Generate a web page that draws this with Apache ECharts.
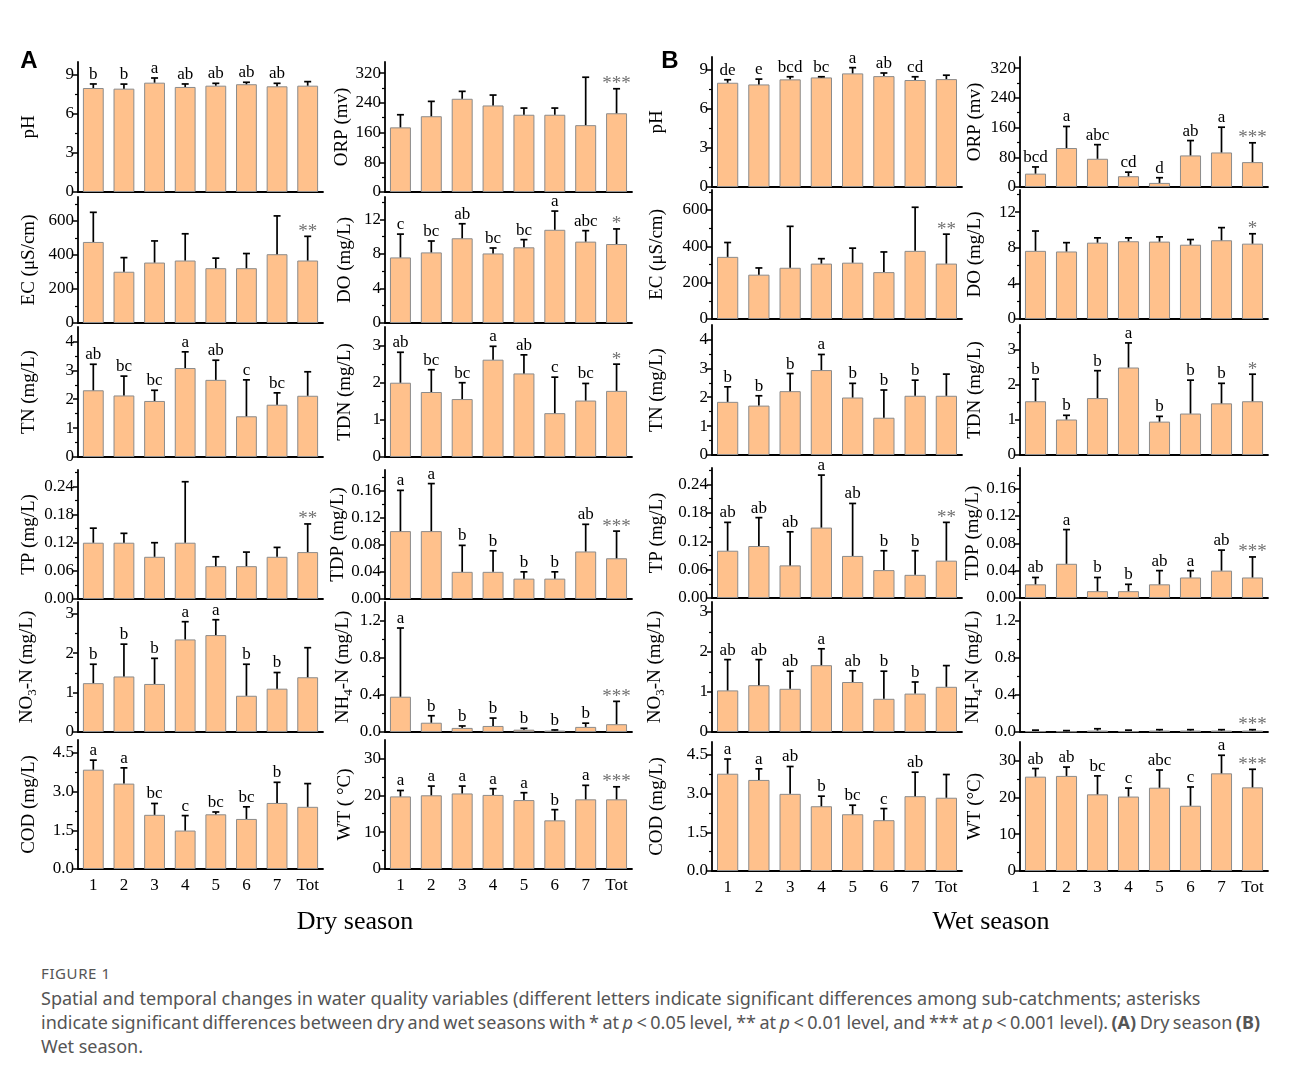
<!DOCTYPE html>
<html>
<head>
<meta charset="utf-8">
<script src="https://cdn.jsdelivr.net/npm/echarts@6/dist/echarts.min.js"></script>
<style>
  body { margin: 0; background: #fff; }
  .rule { position: absolute; left: 0; top: 10px; width: 1290px; height: 1px; background: #cfcfcf; }
  #chart { position: absolute; left: 0; top: 0; width: 1290px; height: 950px; }
  #caption { position: absolute; left: 41px; top: 963px; font-family: "Noto Sans", sans-serif; color: #555; white-space: nowrap; }
  #caption .fig { font-size: 15px; letter-spacing: 0.6px; line-height: 20px; }
  #caption .txt { font-size: 18px; line-height: 24px; margin-top: 3px; }
  #caption .tight { word-spacing: -1.2px; }
</style>
</head>
<body>
<div class="rule"></div>
<div id="chart"></div>
<div id="caption">
  <div class="fig">FIGURE 1</div>
  <div class="txt">Spatial and temporal changes in water quality variables (different letters indicate significant differences among sub-catchments; asterisks<br><span class="tight">indicate significant differences between dry and wet seasons with * at <i>p</i> &lt; 0.05 level, ** at <i>p</i> &lt; 0.01 level, and *** at <i>p</i> &lt; 0.001 level). <b>(A)</b> Dry season <b>(B)</b></span><br>Wet season.</div>
</div>
<script>
const sites = ["1", "2", "3", "4", "5", "6", "7", "Tot"];

// y tick labels
const phTicks = [0, 3, 6, 9];
const ecTicks = [0, 200, 400, 600];
const tnTicks = [0, 1, 2, 3, 4];
const tpTicks = [0, 0.06, 0.12, 0.18, 0.24];
const no3Ticks = [0, 1, 2, 3];
const codTicks = [0, 1.5, 3, 4.5];
const orpTicks = [0, 80, 160, 240, 320];
const doTicks = [0, 4, 8, 12];
const tdnTicks = [0, 1, 2, 3];
const tdpTicks = [0, 0.04, 0.08, 0.12, 0.16];
const nh4Ticks = [0, 0.4, 0.8, 1.2];
const wtTicks = [0, 10, 20, 30];

// dry season (A): mean, top of error bar, letters
const dryPH = [8.0, 7.95, 8.41, 8.08, 8.18, 8.29, 8.13, 8.18];
const dryPHUp = [8.31, 8.3, 8.77, 8.31, 8.36, 8.44, 8.36, 8.49];
const dryPHSig = ["b", "b", "a", "ab", "ab", "ab", "ab", ""];

const dryEC = [476, 301, 355, 367, 322, 322, 404, 367];
const dryECUp = [650, 384, 482, 524, 381, 408, 629, 509];
const dryECSig = ["", "", "", "", "", "", "", "**"];

const dryTN = [2.31, 2.13, 1.94, 3.08, 2.67, 1.41, 1.81, 2.12];
const dryTNUp = [3.21, 2.8, 2.31, 3.64, 3.35, 2.67, 2.22, 2.95];
const dryTNSig = ["ab", "bc", "bc", "a", "ab", "c", "bc", ""];

const dryTP = [0.12, 0.12, 0.09, 0.12, 0.07, 0.07, 0.09, 0.1];
const dryTPUp = [0.151, 0.14, 0.12, 0.25, 0.09, 0.1, 0.11, 0.16];
const dryTPSig = ["", "", "", "", "", "", "", "**"];

const dryNO3 = [1.24, 1.41, 1.22, 2.35, 2.46, 0.92, 1.1, 1.39];
const dryNO3Up = [1.72, 2.23, 1.87, 2.8, 2.85, 1.72, 1.51, 2.14];
const dryNO3Sig = ["b", "b", "b", "a", "a", "b", "b", ""];

const dryCOD = [3.85, 3.31, 2.1, 1.49, 2.12, 1.94, 2.56, 2.41];
const dryCODUp = [4.22, 3.92, 2.54, 2.07, 2.21, 2.41, 3.36, 3.31];
const dryCODSig = ["a", "a", "bc", "c", "bc", "bc", "b", ""];

const dryORP = [174, 204, 251, 233, 208, 208, 180, 212];
const dryORPUp = [208, 244, 271, 261, 226, 226, 309, 278];
const dryORPSig = ["", "", "", "", "", "", "", "***"];

const dryDO = [7.6, 8.18, 9.82, 8.06, 8.77, 10.8, 9.43, 9.15];
const dryDOUp = [10.3, 9.5, 11.5, 8.69, 9.66, 12.97, 10.7, 10.9];
const dryDOSig = ["c", "bc", "ab", "bc", "bc", "a", "abc", "*"];

const dryTDN = [2.0, 1.75, 1.56, 2.62, 2.25, 1.18, 1.52, 1.78];
const dryTDNUp = [2.82, 2.35, 2.0, 2.98, 2.75, 2.15, 1.98, 2.5];
const dryTDNSig = ["ab", "bc", "bc", "a", "ab", "c", "bc", "*"];

const dryTDP = [0.1, 0.1, 0.04, 0.04, 0.03, 0.03, 0.07, 0.06];
const dryTDPUp = [0.16, 0.17, 0.079, 0.071, 0.04, 0.04, 0.11, 0.1];
const dryTDPSig = ["a", "a", "b", "b", "b", "b", "ab", "***"];

const dryNH4 = [0.38, 0.1, 0.044, 0.065, 0.025, 0.015, 0.055, 0.084];
const dryNH4Up = [1.12, 0.175, 0.065, 0.15, 0.04, 0.022, 0.095, 0.33];
const dryNH4Sig = ["a", "b", "b", "b", "b", "b", "b", "***"];

const dryWT = [19.7, 20.0, 20.5, 20.1, 18.7, 13.2, 18.9, 18.9];
const dryWTUp = [21.3, 22.5, 22.5, 21.8, 20.7, 16.1, 22.7, 22.3];
const dryWTSig = ["a", "a", "a", "a", "a", "b", "a", "***"];

// wet season (B)
const wetPH = [8.02, 7.89, 8.28, 8.43, 8.74, 8.53, 8.23, 8.3];
const wetPHUp = [8.25, 8.3, 8.48, 8.48, 9.18, 8.77, 8.48, 8.6];
const wetPHSig = ["de", "e", "bcd", "bc", "a", "ab", "cd", ""];

const wetEC = [342, 244, 282, 305, 310, 258, 375, 305];
const wetECUp = [421, 281, 510, 332, 390, 369, 615, 467];
const wetECSig = ["", "", "", "", "", "", "", "**"];

const wetTN = [1.84, 1.71, 2.21, 2.94, 1.99, 1.29, 2.05, 2.05];
const wetTNUp = [2.36, 2.05, 2.82, 3.48, 2.48, 2.25, 2.59, 2.8];
const wetTNSig = ["b", "b", "b", "a", "b", "b", "b", ""];

const wetTP = [0.1, 0.11, 0.069, 0.149, 0.089, 0.059, 0.049, 0.079];
const wetTPUp = [0.16, 0.17, 0.14, 0.26, 0.2, 0.1, 0.1, 0.16];
const wetTPSig = ["ab", "ab", "ab", "a", "ab", "b", "b", "**"];

const wetNO3 = [1.04, 1.17, 1.08, 1.67, 1.25, 0.83, 0.96, 1.13];
const wetNO3Up = [1.81, 1.81, 1.52, 2.08, 1.53, 1.52, 1.25, 1.66];
const wetNO3Sig = ["ab", "ab", "ab", "a", "ab", "b", "b", ""];

const wetCOD = [3.77, 3.53, 2.99, 2.51, 2.2, 1.97, 2.9, 2.84];
const wetCODUp = [4.34, 3.96, 4.05, 2.9, 2.55, 2.42, 3.83, 3.74];
const wetCODSig = ["a", "a", "ab", "b", "bc", "c", "ab", ""];

const wetORP = [36, 105, 76, 29, 11, 85, 93, 67];
const wetORPUp = [54, 163, 114, 40, 25, 125, 161, 119];
const wetORPSig = ["bcd", "a", "abc", "cd", "d", "ab", "a", "***"];

const wetDO = [7.66, 7.59, 8.58, 8.74, 8.7, 8.35, 8.85, 8.47];
const wetDOUp = [9.89, 8.58, 9.12, 9.12, 9.23, 8.93, 10.27, 9.58];
const wetDOSig = ["", "", "", "", "", "", "", "*"];

const wetTDN = [1.53, 1.01, 1.62, 2.49, 0.95, 1.18, 1.47, 1.53];
const wetTDNUp = [2.16, 1.13, 2.4, 3.19, 1.1, 2.13, 2.04, 2.3];
const wetTDNSig = ["b", "b", "b", "a", "b", "b", "b", "*"];

const wetTDP = [0.02, 0.05, 0.01, 0.01, 0.02, 0.03, 0.04, 0.03];
const wetTDPUp = [0.03, 0.1, 0.03, 0.02, 0.04, 0.04, 0.07, 0.06];
const wetTDPSig = ["ab", "a", "b", "b", "ab", "a", "ab", "***"];

const wetNH4 = [0.01, 0.008, 0.015, 0.01, 0.015, 0.015, 0.015, 0.015];
const wetNH4Up = [0.02, 0.015, 0.035, 0.02, 0.025, 0.025, 0.025, 0.025];
const wetNH4Sig = ["", "", "", "", "", "", "", "***"];

const wetWT = [25.6, 25.8, 20.8, 20.2, 22.6, 17.7, 26.5, 22.7];
const wetWTUp = [27.8, 28.2, 25.8, 22.5, 27.4, 22.8, 31.4, 27.6];
const wetWTSig = ["ab", "ab", "bc", "c", "abc", "c", "a", "***"];

const SERIF = "'Liberation Serif', 'Times New Roman', serif";
const BAR = "#FFC18C";

const rowsA = [[62, 192], [197, 323], [327, 457], [470, 599], [602, 732], [740, 869]];
const rowsB = [[57, 187], [190, 319], [325, 455], [468, 598], [602, 732], [742, 871]];

const grid = [];
const xAxis = [];
const yAxis = [];
const series = [];

// error bar + letter drawn through the axis scales
function errorBar(sig) {
  return function (params, api) {
    const i = api.value(0);
    const base = api.coord([i, api.value(1)]);
    const top = api.coord([i, api.value(2)]);
    const label = sig[params.dataIndex];
    const star = label.indexOf("*") >= 0;
    return {
      type: "group",
      children: [
        { type: "line", shape: { x1: base[0], y1: base[1], x2: top[0], y2: top[1] }, style: { stroke: "#000", lineWidth: 1.7 } },
        { type: "line", shape: { x1: top[0] - 3.5, y1: top[1], x2: top[0] + 3.5, y2: top[1] }, style: { stroke: "#000", lineWidth: 1.7 } },
        {
          type: "text",
          x: top[0],
          y: top[1] + (star ? 5 : -1),
          style: { text: label, align: "center", verticalAlign: "bottom", fontSize: star ? 19 : 17, fontFamily: SERIF, fill: star ? "#707070" : "#000" },
        },
      ],
    };
  };
}

function addPlot(left, width, row, nameGap, p, showX) {
  const g = grid.length;
  const step = p.ticks[1] - p.ticks[0];
  const minor = p.ticks.map((v) => v + step / 2).filter((v) => v < p.max);
  grid.push({ left: left, top: row[0], width: width, height: row[1] - row[0] });
  xAxis.push({
    type: "category",
    gridIndex: g,
    data: sites,
    axisLine: { lineStyle: { color: "#000", width: 1.8 } },
    axisTick: { alignWithLabel: true, interval: 0, length: 5, lineStyle: { color: "#000", width: 1.5 } },
    axisLabel: { show: showX, interval: 0, color: "#000", fontSize: 17, fontFamily: SERIF, margin: 8 },
  });
  yAxis.push({
    type: "value",
    gridIndex: g,
    position: "left",
    min: 0,
    max: p.max,
    name: p.name,
    nameLocation: "middle",
    nameRotate: 90,
    nameGap: nameGap,
    nameTextStyle: {
      color: "#000",
      fontSize: 19,
      fontFamily: SERIF,
      rich: { s: { fontSize: 13, fontFamily: SERIF, color: "#000", verticalAlign: "bottom", padding: [11, 0, 0, 0] } },
    },
    axisLine: { show: true, lineStyle: { color: "#000", width: 1.8 } },
    axisTick: { show: true, customValues: p.ticks, length: 5, lineStyle: { color: "#000", width: 1.5 } },
    axisLabel: { customValues: p.ticks, formatter: (v) => v.toFixed(p.dec), color: "#000", fontSize: 17, fontFamily: SERIF, margin: 4 },
    splitLine: { show: false },
  });
  yAxis.push({
    type: "value",
    gridIndex: g,
    position: "left",
    min: 0,
    max: p.max,
    axisLine: { show: false },
    axisTick: { show: true, customValues: minor, length: 3, lineStyle: { color: "#000", width: 1.2 } },
    axisLabel: { show: false },
    splitLine: { show: false },
  });
  series.push({
    type: "bar",
    xAxisIndex: g,
    yAxisIndex: 2 * g,
    data: p.mean,
    barWidth: "68%",
    itemStyle: { color: BAR, borderColor: "#8c8c8c", borderWidth: 1 },
    silent: true,
  });
  series.push({
    type: "custom",
    xAxisIndex: g,
    yAxisIndex: 2 * g,
    data: p.mean.map((m, i) => [i, m, p.up[i]]),
    renderItem: errorBar(p.sig),
    z: 3,
    silent: true,
  });
}

const dryLeft = [
  { name: "pH", mean: dryPH, up: dryPHUp, sig: dryPHSig, ticks: phTicks, max: 10, dec: 0 },
  { name: "EC (μS/cm)", mean: dryEC, up: dryECUp, sig: dryECSig, ticks: ecTicks, max: 740, dec: 0 },
  { name: "TN (mg/L)", mean: dryTN, up: dryTNUp, sig: dryTNSig, ticks: tnTicks, max: 4.5, dec: 0 },
  { name: "TP (mg/L)", mean: dryTP, up: dryTPUp, sig: dryTPSig, ticks: tpTicks, max: 0.275, dec: 2 },
  { name: "NO{s|3}-N (mg/L)", mean: dryNO3, up: dryNO3Up, sig: dryNO3Sig, ticks: no3Ticks, max: 3.3, dec: 0 },
  { name: "COD (mg/L)", mean: dryCOD, up: dryCODUp, sig: dryCODSig, ticks: codTicks, max: 5, dec: 1 },
];
const dryRight = [
  { name: "ORP (mv)", mean: dryORP, up: dryORPUp, sig: dryORPSig, ticks: orpTicks, max: 350, dec: 0 },
  { name: "DO (mg/L)", mean: dryDO, up: dryDOUp, sig: dryDOSig, ticks: doTicks, max: 14.6, dec: 0 },
  { name: "TDN (mg/L)", mean: dryTDN, up: dryTDNUp, sig: dryTDNSig, ticks: tdnTicks, max: 3.5, dec: 0 },
  { name: "TDP (mg/L)", mean: dryTDP, up: dryTDPUp, sig: dryTDPSig, ticks: tdpTicks, max: 0.19, dec: 2 },
  { name: "NH{s|4}-N (mg/L)", mean: dryNH4, up: dryNH4Up, sig: dryNH4Sig, ticks: nh4Ticks, max: 1.4, dec: 1 },
  { name: "WT ( °C)", mean: dryWT, up: dryWTUp, sig: dryWTSig, ticks: wtTicks, max: 35, dec: 0 },
];
const wetLeft = [
  { name: "pH", mean: wetPH, up: wetPHUp, sig: wetPHSig, ticks: phTicks, max: 10, dec: 0 },
  { name: "EC (μS/cm)", mean: wetEC, up: wetECUp, sig: wetECSig, ticks: ecTicks, max: 710, dec: 0 },
  { name: "TN (mg/L)", mean: wetTN, up: wetTNUp, sig: wetTNSig, ticks: tnTicks, max: 4.5, dec: 0 },
  { name: "TP (mg/L)", mean: wetTP, up: wetTPUp, sig: wetTPSig, ticks: tpTicks, max: 0.275, dec: 2 },
  { name: "NO{s|3}-N (mg/L)", mean: wetNO3, up: wetNO3Up, sig: wetNO3Sig, ticks: no3Ticks, max: 3.25, dec: 0 },
  { name: "COD (mg/L)", mean: wetCOD, up: wetCODUp, sig: wetCODSig, ticks: codTicks, max: 5, dec: 1 },
];
const wetRight = [
  { name: "ORP (mv)", mean: wetORP, up: wetORPUp, sig: wetORPSig, ticks: orpTicks, max: 350, dec: 0 },
  { name: "DO (mg/L)", mean: wetDO, up: wetDOUp, sig: wetDOSig, ticks: doTicks, max: 14.5, dec: 0 },
  { name: "TDN (mg/L)", mean: wetTDN, up: wetTDNUp, sig: wetTDNSig, ticks: tdnTicks, max: 3.7, dec: 0 },
  { name: "TDP (mg/L)", mean: wetTDP, up: wetTDPUp, sig: wetTDPSig, ticks: tdpTicks, max: 0.19, dec: 2 },
  { name: "NH{s|4}-N (mg/L)", mean: wetNH4, up: wetNH4Up, sig: wetNH4Sig, ticks: nh4Ticks, max: 1.4, dec: 1 },
  { name: "WT (°C)", mean: wetWT, up: wetWTUp, sig: wetWTSig, ticks: wtTicks, max: 35, dec: 0 },
];

dryLeft.forEach((p, r) => addPlot(78, 245, rowsA[r], 39, p, r === 5));
dryRight.forEach((p, r) => addPlot(385, 247, rowsA[r], 30, p, r === 5));
wetLeft.forEach((p, r) => addPlot(712, 250, rowsB[r], 45, p, r === 5));
wetRight.forEach((p, r) => addPlot(1020, 248, rowsB[r], 35, p, r === 5));

const chart = echarts.init(document.getElementById("chart"));
chart.setOption({
  animation: false,
  backgroundColor: "#fff",
  grid: grid,
  xAxis: xAxis,
  yAxis: yAxis,
  series: series,
  graphic: [
    { type: "text", x: 29, y: 61, style: { text: "A", align: "center", verticalAlign: "middle", fontSize: 24, fontWeight: "bold", fontFamily: "'Liberation Sans', Arial, sans-serif", fill: "#000" } },
    { type: "text", x: 670, y: 61, style: { text: "B", align: "center", verticalAlign: "middle", fontSize: 24, fontWeight: "bold", fontFamily: "'Liberation Sans', Arial, sans-serif", fill: "#000" } },
    { type: "text", x: 355, y: 922, style: { text: "Dry season", align: "center", verticalAlign: "middle", fontSize: 26, fontFamily: SERIF, fill: "#000" } },
    { type: "text", x: 991, y: 922, style: { text: "Wet season", align: "center", verticalAlign: "middle", fontSize: 26, fontFamily: SERIF, fill: "#000" } },
  ],
});
</script>
</body>
</html>
